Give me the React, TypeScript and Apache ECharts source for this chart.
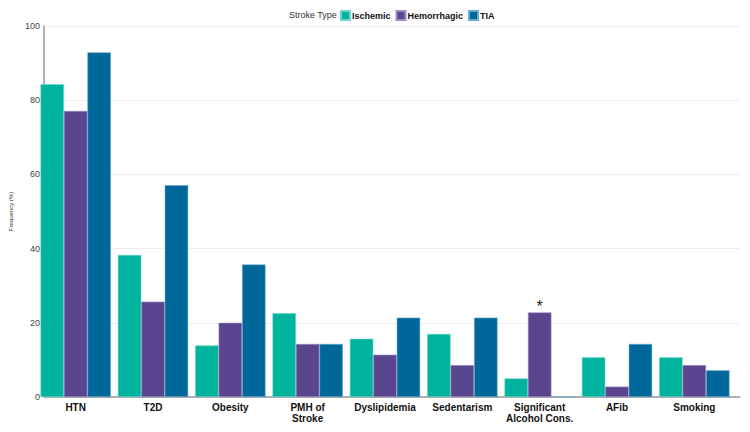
import React, { useEffect, useRef } from "react";
import * as echarts from "echarts";

const categories = ["HTN", "T2D", "Obesity", "PMH of\nStroke", "Dyslipidemia", "Sedentarism", "Significant\nAlcohol Cons.", "AFib", "Smoking"];
const ischemic = [84.3, 38.3, 13.9, 22.6, 15.7, 17.0, 5.0, 10.7, 10.7];
const hemorrhagic = [77.1, 25.7, 20.0, 14.3, 11.4, 8.6, 22.8, 2.8, 8.6];
const tia = [92.9, 57.1, 35.7, 14.3, 21.4, 21.4, 0, 14.3, 7.2];
const significantMarks = ["", "", "", "", "", "", "*", "", ""];
const yTicks = [0, 20, 40, 60, 80, 100];

const FONT = "Liberation Sans, Arial, sans-serif";

export default function App() {
  const ref = useRef<HTMLDivElement>(null);
  useEffect(() => {
    const chart = echarts.init(ref.current!, null, { renderer: "svg" });
    chart.setOption({
      animation: false,
      textStyle: { fontFamily: FONT },
      legend: {
        top: 5,
        left: 335,
        padding: 5,
        itemWidth: 9,
        itemHeight: 9,
        itemGap: 5,
        icon: "rect",
        textStyle: { fontFamily: FONT, fontSize: 9, fontWeight: "bold", color: "#111", padding: [0, 0, 0, -3] },
        data: ["Ischemic", "Hemorrhagic", "TIA"],
      },
      graphic: [
        {
          type: "text",
          left: 289,
          top: 10,
          style: { text: "Stroke Type", fontFamily: FONT, fontSize: 9, fill: "#333" },
        },
      ],
      grid: [
        { left: 37, right: 17, top: 26, bottom: 35, containLabel: false },
        { left: 30, right: 10, top: 26, bottom: 35, containLabel: false },
      ],
      xAxis: [
        {
          type: "category",
          gridIndex: 0,
          data: categories,
          axisLine: { show: false },
          axisTick: { show: false },
          axisLabel: { fontFamily: FONT, fontSize: 10, fontWeight: "bold", color: "#111", lineHeight: 11, margin: 5, interval: 0 },
        },
        {
          type: "category",
          gridIndex: 1,
          data: [""],
          axisLine: { show: true, lineStyle: { color: "#999", width: 1.5 } },
          axisTick: { show: false },
          axisLabel: { show: false },
        },
      ],
      yAxis: [
        {
          type: "value",
          gridIndex: 0,
          min: 0,
          max: 100,
          interval: 20,
          show: false,
          splitLine: { show: false },
        },
        {
          type: "value",
          gridIndex: 1,
          min: yTicks[0],
          max: yTicks[yTicks.length - 1],
          interval: 20,
          name: "Frequency (%)",
          nameLocation: "middle",
          nameGap: 21,
          nameTextStyle: { fontFamily: FONT, fontSize: 6, color: "#333" },
          axisLine: { show: true, lineStyle: { color: "#999", width: 1.5 } },
          axisTick: { show: false },
          axisLabel: { fontFamily: FONT, fontSize: 9, color: "#444", margin: 4 },
          splitLine: { show: true, lineStyle: { color: "#eeeeee", width: 1 } },
        },
      ],
      series: [
        {
          name: "Ischemic",
          type: "bar",
          data: ischemic,
          barGap: "0%",
          barCategoryGap: "9%",
          itemStyle: { color: "#00B39E", borderColor: "#6fd6c9", borderWidth: 0.6 },
        },
        {
          name: "Hemorrhagic",
          type: "bar",
          data: hemorrhagic.map((v, i) => ({
            value: v,
            label: significantMarks[i]
              ? { show: true, position: "top", formatter: significantMarks[i], fontSize: 16, color: "#222", distance: -2, fontFamily: FONT }
              : undefined,
          })),
          barGap: "0%",
          barCategoryGap: "9%",
          itemStyle: { color: "#5A468E", borderColor: "#9b8fbd", borderWidth: 0.6 },
        },
        {
          name: "TIA",
          type: "bar",
          data: tia,
          barGap: "0%",
          barCategoryGap: "9%",
          itemStyle: { color: "#00679B", borderColor: "#6fa8c8", borderWidth: 0.6 },
        },
      ],
    });
    return () => chart.dispose();
  }, []);
  return <div ref={ref} style={{ width: 750, height: 432, position: "absolute", left: 0, top: 0 }} />;
}
